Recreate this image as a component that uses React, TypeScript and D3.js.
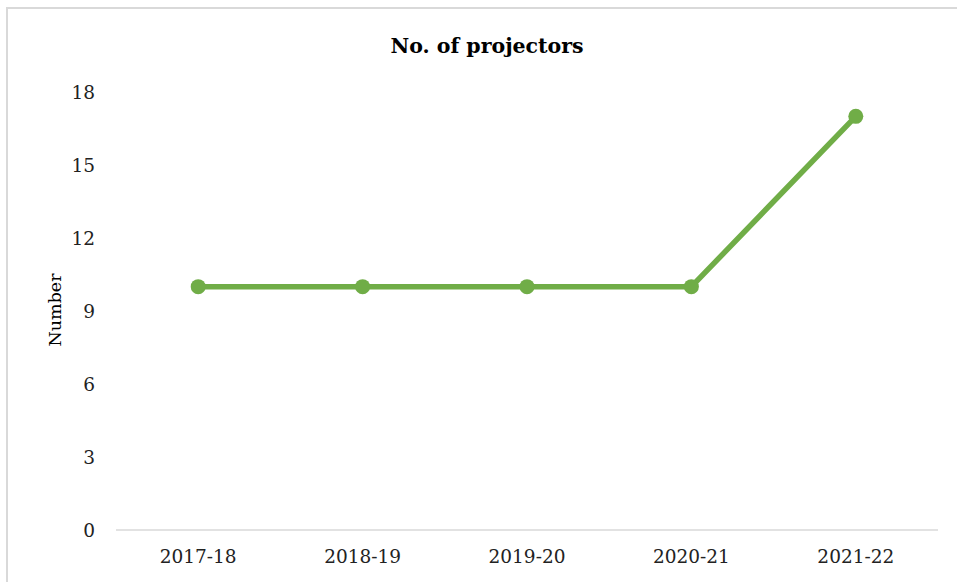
import React from "react";
import * as d3 from "d3";

const categories = ["2017-18", "2018-19", "2019-20", "2020-21", "2021-22"];
const values = [10, 10, 10, 10, 17];
const yTicks = [0, 3, 6, 9, 12, 15, 18];
const title = "No. of projectors";
const yTitle = "Number";

const W = 957;
const H = 582;
const FONT = "'DejaVu Serif', serif";
const GREEN = "#70AD47";

export default function App() {
  const x = d3.scaleBand<string>().domain(categories).range([116, 938]);
  const y = d3.scaleLinear().domain([0, 18]).range([530, 92]);
  const cx = (c: string) => (x(c) as number) + x.bandwidth() / 2;
  const line = d3
    .line<number>()
    .x((_, i) => cx(categories[i]))
    .y((v) => y(v));

  return (
    <svg
      width={W}
      height={H}
      style={{ position: "absolute", left: 0, top: 0, background: "#fff" }}
    >
      <rect x={7} y={8} width={980} height={600} fill="#fff" stroke="#d9d9d9" strokeWidth={2} />
      <text
        x={487}
        y={53}
        textAnchor="middle"
        fontFamily={FONT}
        fontWeight="bold"
        fontSize={20.5}
        fill="#000"
      >
        {title}
      </text>
      <line x1={116} x2={938} y1={y(0)} y2={y(0)} stroke="#d9d9d9" strokeWidth={1.5} />
      {yTicks.map((t) => (
        <text
          key={t}
          x={95}
          y={y(t)}
          dy="0.36em"
          textAnchor="end"
          fontFamily={FONT}
          fontSize={18.5}
          fill="#222"
        >
          {t}
        </text>
      ))}
      {categories.map((c) => (
        <text
          key={c}
          x={cx(c)}
          y={563}
          textAnchor="middle"
          fontFamily={FONT}
          fontSize={18.5}
          fill="#222"
        >
          {c}
        </text>
      ))}
      <text
        transform={`translate(61,310) rotate(-90)`}
        textAnchor="middle"
        fontFamily={FONT}
        fontSize={17.5}
        fill="#000"
      >
        {yTitle}
      </text>
      <path d={line(values) || ""} fill="none" stroke={GREEN} strokeWidth={5.5} strokeLinejoin="round" />
      {values.map((v, i) => (
        <circle key={i} cx={cx(categories[i])} cy={y(v)} r={7.5} fill={GREEN} />
      ))}
    </svg>
  );
}
